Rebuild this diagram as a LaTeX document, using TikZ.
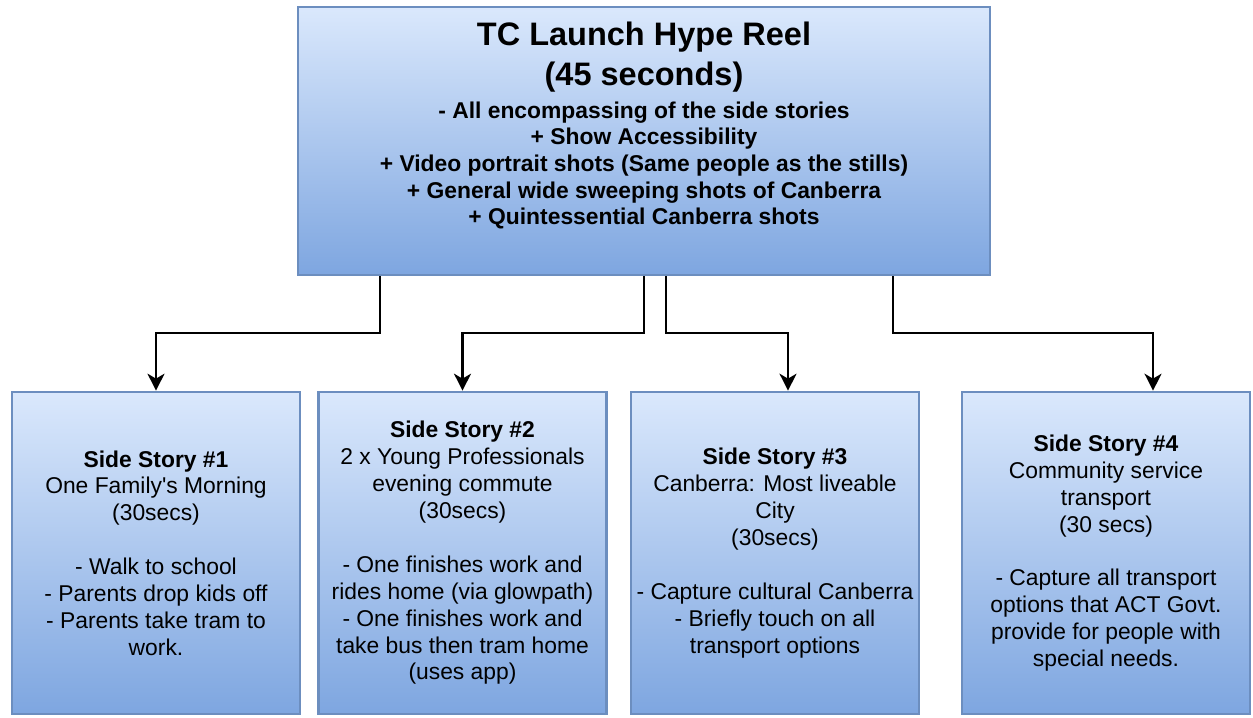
\documentclass[tikz,border=0pt]{standalone}
\usepackage{fontspec}
\setmainfont{Liberation Sans}
\usetikzlibrary{arrows.meta}
\definecolor{boxline}{HTML}{6C8EBF}
\definecolor{boxtop}{HTML}{DAE8FC}
\definecolor{boxbot}{HTML}{7EA6E0}

\begin{document}
\begin{tikzpicture}[
  box/.style={draw=boxline, line width=1.5pt, top color=boxtop, bottom color=boxbot,
    minimum width=5.76cm, minimum height=6.44cm, inner sep=0pt},
  story/.style={box, align=center, font=\fontsize{13}{15.3}\selectfont},
  flow/.style={line width=1.2pt, -{Stealth[length=3.4mm,width=3.4mm,inset=1mm]}}]
\useasboundingbox (0,0) rectangle (25.06,-14.36);
\node[box, minimum width=13.84cm, minimum height=5.36cm] (Reel) at (12.88,-2.82) {};
\node[align=center, inner sep=0pt, font=\bfseries\fontsize{18.5}{22.7}\selectfont]
  (ReelTitle) at (12.88,-1.14) {TC Launch Hype Reel\\(45 seconds)};
\node[align=center, inner sep=0pt, font=\bfseries\fontsize{13}{15.1}\selectfont]
  (ReelBody) at (12.88,-3.31) {- All encompassing of the side stories\\
  + Show Accessibility\\
  + Video portrait shots (Same people as the stills)\\
  + General wide sweeping shots of Canberra\\
  + Quintessential Canberra shots};
\node[story] (S1) at (3.12,-11.06) {\textbf{Side Story \#1}\\One Family\textquotesingle s Morning\\(30secs)\\[15.3pt]
  - Walk to school\\- Parents drop kids off\\- Parents take tram to\\work.};
\node[story] (S2) at (9.25,-11.06) {\textbf{Side Story \#2}\\2 x Young Professionals\\evening commute\\(30secs)\\[15.3pt]
  - One finishes work and\\rides home (via glowpath)\\- One finishes work and\\take bus then tram home\\(uses app)};
\node[story] (S3) at (15.5,-11.06) {\textbf{Side Story \#3}\\Canberra: Most liveable\\City\\(30secs)\\[15.3pt]
  - Capture cultural Canberra\\- Briefly touch on all\\transport options};
\node[story] (S4) at (22.12,-11.06) {\textbf{Side Story \#4}\\Community service\\transport\\(30 secs)\\[15.3pt]
  - Capture all transport\\options that ACT Govt.\\provide for people with\\special needs.};
\coordinate (bus) at (0,-6.66);
\draw[flow] ([xshift=1.66cm]Reel.south west) -- ([xshift=1.66cm]Reel.south west |- bus) -| (S1.north);
\draw[flow] ([xshift=6.94cm]Reel.south west) -- ([xshift=6.94cm]Reel.south west |- bus) -| (S2.north);
\draw[flow] ([xshift=7.38cm]Reel.south west) -- ([xshift=7.38cm]Reel.south west |- bus) -| ([xshift=0.26cm]S3.north);
\draw[flow] ([xshift=11.92cm]Reel.south west) -- ([xshift=11.92cm]Reel.south west |- bus) -| ([xshift=0.94cm]S4.north);
\end{tikzpicture}
\end{document}
